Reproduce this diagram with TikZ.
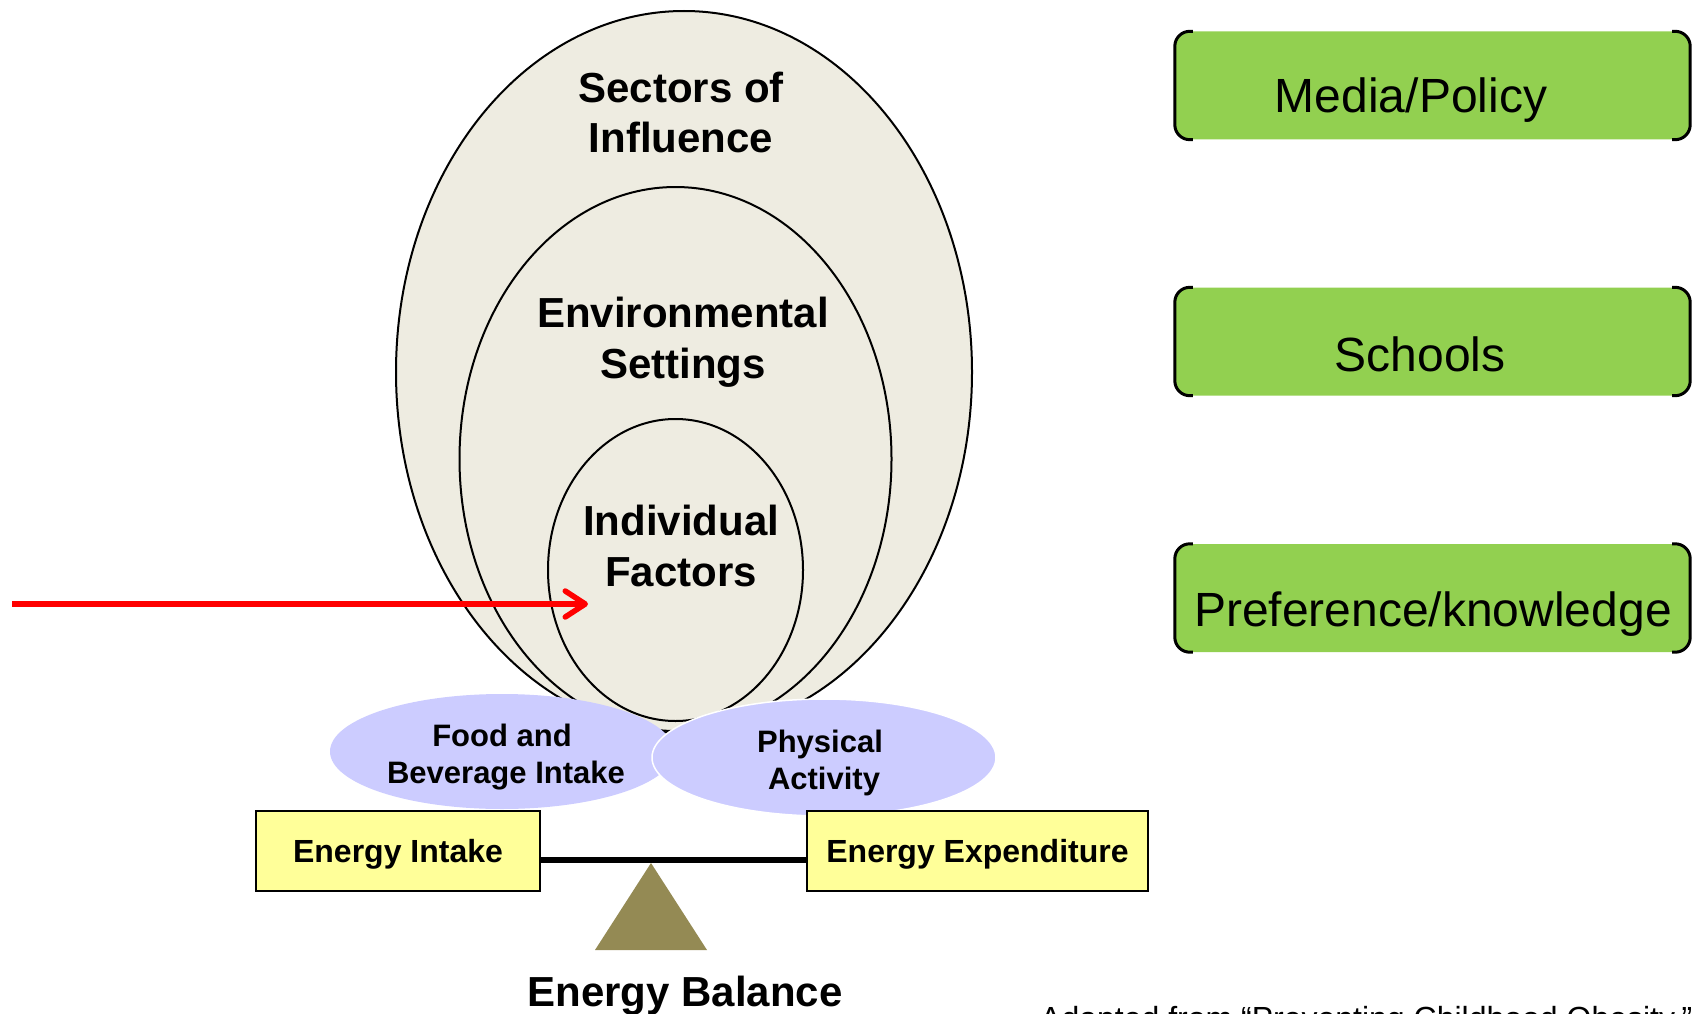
\documentclass[tikz,border=0pt]{standalone}
\usepackage{fontspec}
\setmainfont{Liberation Sans}
\usetikzlibrary{shapes.geometric,arrows.meta}
\definecolor{beige}{HTML}{EEECE1}
\definecolor{lav}{HTML}{CCCCFF}
\definecolor{yel}{HTML}{FFFF99}
\definecolor{grn}{HTML}{92D050}
\definecolor{oliveb}{HTML}{948A54}
\begin{document}
\begin{tikzpicture}[x=1pt,y=-1pt,
  ring/.style={ellipse, draw=black, line width=2pt, fill=beige, inner sep=0pt},
  blob/.style={ellipse, fill=lav, inner sep=0pt},
  ebox/.style={rectangle, draw=black, line width=2.2pt, fill=yel, minimum height=80pt,
    text height=23pt, text depth=0pt, inner sep=0pt, font=\fontsize{32}{38}\selectfont\bfseries},
  gbox/.style={rectangle, rounded corners=15pt, fill=grn, inner sep=0pt, minimum width=515pt, minimum height=108pt},
  bracket/.style={line width=3pt, rounded corners=15pt},
  bigtxt/.style={font=\fontsize{42}{50}\selectfont\bfseries, inner sep=0pt, anchor=base},
  blobtxt/.style={font=\fontsize{31}{37}\selectfont\bfseries, inner sep=0pt, anchor=base},
  gtxt/.style={font=\fontsize{48}{56}\selectfont, inner sep=0pt, anchor=base},
  note/.style={font=\fontsize{32}{38}\selectfont, inner sep=0pt, anchor=base west}]
\useasboundingbox (0,0) rectangle (1692,1014);
\clip (0,0) rectangle (1692,1014);

% nested ellipses
\node[ring, minimum width=576pt, minimum height=722pt] (outer) at (684,372) {};
\node[ring, minimum width=432pt, minimum height=544pt] (middle) at (675.5,459) {};
\node[ring, minimum width=255pt, minimum height=302pt] (inner) at (675.5,570) {};

\node[bigtxt] (s1) at (681,102.5) {Sectors of};
\node[bigtxt] (s2) at (681,153) {Influence};
\node[bigtxt] (e1) at (683,327) {Environmental};
\node[bigtxt] (e2) at (683,378) {Settings};
\node[bigtxt] (i1) at (681,535) {Individual};
\node[bigtxt] (i2) at (681,586) {Factors};

% red arrow
\coordinate (tail) at (12,604);
\coordinate (head) at (588,604);
\draw[red, line width=5.5pt, -{Straight Barb[length=20pt,width=26pt,round]}] (tail) -- (head);

% behaviour ellipses
\node[blob, minimum width=344pt, minimum height=115pt] (food) at (502,751.5) {};
\node[blob, draw=white, line width=1.5pt, minimum width=344pt, minimum height=117pt] (phys) at (824,757.5) {};
\node[blobtxt] (f1) at (502,746) {Food and};
\node[blobtxt] (f2) at (506,783.5) {Beverage Intake};
\node[blobtxt] (p1) at (820,752) {Physical};
\node[blobtxt] (p2) at (824,789) {Activity};

% balance
\fill[oliveb] (651,863) -- (707,950) -- (595,950) -- cycle;
\node[ebox, minimum width=284pt] (ei) at (398,851) {Energy Intake};
\node[ebox, minimum width=341pt] (ee) at (977.5,851) {Energy Expenditure};
\draw[line width=5.5pt] ([yshift=-9pt]ei.east) -- ([yshift=-9pt]ee.west);
\node[bigtxt] (eb) at (685,1006) {Energy Balance};

% green boxes
\node[gbox] (media) at (1432.5,85.5) {};
\node[gbox] (school) at (1432.5,341.5) {};
\node[gbox] (pref) at (1432.5,598) {};
\foreach \b in {media,school,pref}{
  \draw[bracket] ([xshift=18pt]\b.north west) -- (\b.north west) -- (\b.south west) -- ([xshift=18pt]\b.south west);
  \draw[bracket] ([xshift=-18pt]\b.north east) -- (\b.north east) -- (\b.south east) -- ([xshift=-18pt]\b.south east);
}
\node[gtxt] (mt) at (1411,113) {Media/Policy};
\node[gtxt] (st) at (1420,371) {Schools};
\node[gtxt] (pt) at (1433,626) {Preference/knowledge};

\node[note] (src) at (1040,1029) {Adapted from “Preventing Childhood Obesity,”};
\end{tikzpicture}
\end{document}
